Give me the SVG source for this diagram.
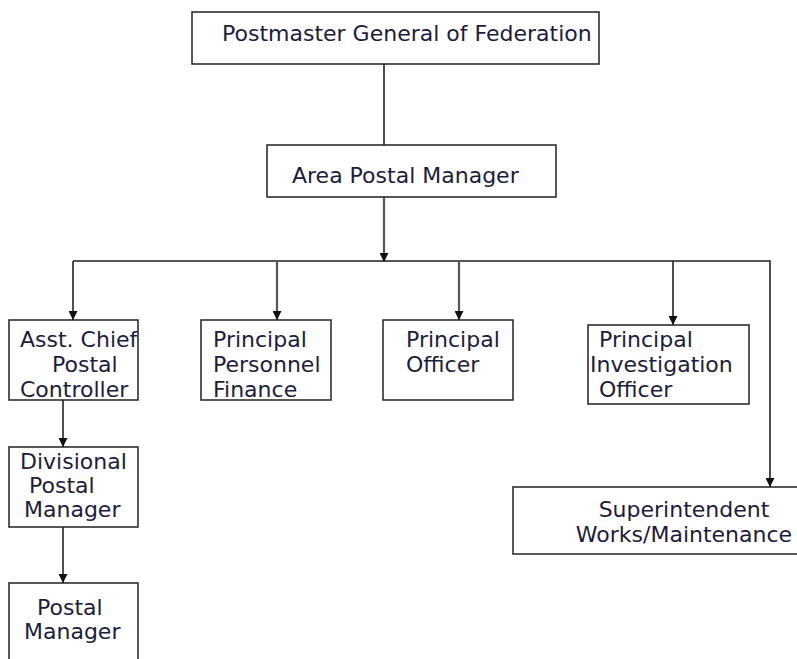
<svg xmlns="http://www.w3.org/2000/svg" width="797" height="659" viewBox="0 0 797 659">
<defs>
<marker id="ah" viewBox="0 0 10 10" refX="10" refY="5" markerWidth="9" markerHeight="9" markerUnits="userSpaceOnUse" orient="auto">
<path d="M0,0 L10,5 L0,10 z" fill="#111"/>
</marker>
<style>
.box{fill:#fff;stroke:#222;stroke-width:1.5}
.t{font-family:"DejaVu Sans",Verdana,sans-serif;font-size:22px;fill:#1c1c40}
.c{fill:none;stroke:#222;stroke-width:1.6}
.g{fill:none;stroke:#555;stroke-width:2.2}
</style>
</defs>
<rect width="797" height="659" fill="#fff"/>
<g id="connectors">
<path class="c" d="M384,64 V145"/>
<path class="g" d="M384,197 V262" marker-end="url(#ah)"/>
<path class="c" d="M73,261 H770 V487" marker-end="url(#ah)"/>
<path class="c" d="M73,261 V320" marker-end="url(#ah)"/>
<path class="g" d="M277,261 V320" marker-end="url(#ah)"/>
<path class="g" d="M459,261 V320" marker-end="url(#ah)"/>
<path class="c" d="M673,261 V325" marker-end="url(#ah)"/>
<path class="c" d="M63,400 V447" marker-end="url(#ah)"/>
<path class="c" d="M63,527 V583" marker-end="url(#ah)"/>
</g>
<g id="pmg">
<rect class="box" x="192" y="12" width="407" height="52"/>
<text class="t" x="222" y="41">Postmaster General of Federation</text>
</g>
<g id="apm">
<rect class="box" x="267" y="145" width="289" height="52"/>
<text class="t" x="292" y="183">Area Postal Manager</text>
</g>
<g id="acpc">
<rect class="box" x="9" y="320" width="129" height="80"/>
<text class="t" x="20" y="347">Asst. Chief</text>
<text class="t" x="52" y="371.5">Postal</text>
<text class="t" x="20" y="396.5">Controller</text>
</g>
<g id="ppf">
<rect class="box" x="201" y="320" width="130" height="80"/>
<text class="t" x="213" y="347">Principal</text>
<text class="t" x="213" y="371.5">Personnel</text>
<text class="t" x="213" y="396.5">Finance</text>
</g>
<g id="po">
<rect class="box" x="383" y="320" width="130" height="80"/>
<text class="t" x="406" y="347">Principal</text>
<text class="t" x="406" y="371.5">Officer</text>
</g>
<g id="pio">
<rect class="box" x="588" y="325" width="161" height="79"/>
<text class="t" x="599" y="347">Principal</text>
<text class="t" x="590" y="371.5">Investigation</text>
<text class="t" x="599" y="396.5">Officer</text>
</g>
<g id="swm">
<rect class="box" x="513" y="487" width="290" height="67"/>
<text class="t" x="684" y="517" text-anchor="middle">Superintendent</text>
<text class="t" x="684" y="541.5" text-anchor="middle">Works/Maintenance</text>
</g>
<g id="dpm">
<rect class="box" x="9" y="447" width="129" height="80"/>
<text class="t" x="20" y="468.5">Divisional</text>
<text class="t" x="29" y="492.5">Postal</text>
<text class="t" x="24" y="517">Manager</text>
</g>
<g id="pm">
<rect class="box" x="9" y="583" width="129" height="90"/>
<text class="t" x="37" y="615">Postal</text>
<text class="t" x="24" y="639">Manager</text>
</g>
</svg>
